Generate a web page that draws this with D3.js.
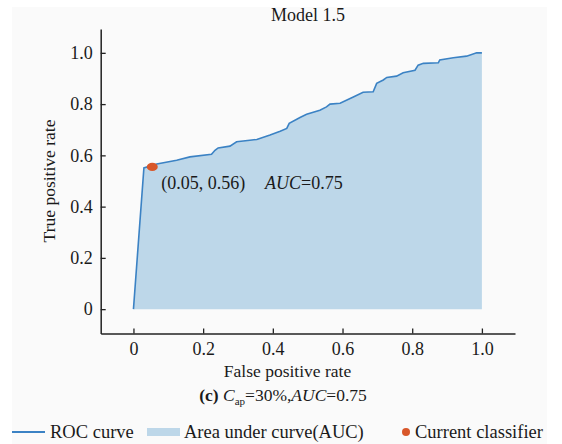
<!DOCTYPE html>
<html>
<head>
<meta charset="utf-8">
<script src="https://cdn.jsdelivr.net/npm/d3@7"></script>
<style>
  body { margin: 0; background: #fff; }
  text { font-family: "Liberation Serif", "Times New Roman", serif; fill: #1a1a1a; }
</style>
</head>
<body>
<div id="vizcont"></div>
<script>
// ROC curve
var fpr = [0, 0.030, 0.067, 0.124, 0.162, 0.224, 0.234, 0.243, 0.277, 0.296, 0.334, 0.354, 0.392, 0.421, 0.440, 0.447,
           0.478, 0.497, 0.535, 0.554, 0.564, 0.593, 0.631, 0.659, 0.688, 0.698, 0.717, 0.727, 0.755, 0.774, 0.808,
           0.817, 0.832, 0.875, 0.879, 0.918, 0.956, 0.985, 1.0];
var tpr = [0, 0.551, 0.566, 0.581, 0.594, 0.604, 0.620, 0.629, 0.636, 0.653, 0.659, 0.662, 0.679, 0.694, 0.705, 0.725,
           0.748, 0.760, 0.776, 0.789, 0.800, 0.803, 0.828, 0.846, 0.848, 0.881, 0.894, 0.904, 0.909, 0.922, 0.932,
           0.952, 0.959, 0.961, 0.972, 0.981, 0.987, 1.0, 1.0];
var current = [0.054, 0.555];
var xTicks = [0, 0.2, 0.4, 0.6, 0.8, 1.0];
var yTicks = [0, 0.2, 0.4, 0.6, 0.8, 1.0];
var tickLabels = ["0", "0.2", "0.4", "0.6", "0.8", "1.0"];
var legendLabels = ["ROC curve", "Area under curve(AUC)", "Current classifier"];

var width = 562, height = 444;
var lineColor = "#3b82c4", areaColor = "#bdd7e9", dotColor = "#d8572a";

var svg = d3.select("#vizcont").append("svg")
    .attr("width", width).attr("height", height);

// light panel behind everything
svg.append("rect").attr("x", 12).attr("y", 7).attr("width", 535).attr("height", 437).attr("fill", "#fafafa");

var x = d3.scaleLinear().domain([-0.094, 1.095]).range([100.7, 515]);
var y = d3.scaleLinear().domain([-0.095, 1.093]).range([333.5, 29]);

var pts = fpr.map(function(d, i) { return [d, tpr[i]]; });

// area
svg.append("path")
    .datum(pts)
    .attr("fill", areaColor)
    .attr("d", d3.area().x(function(d) { return x(d[0]); }).y0(y(0)).y1(function(d) { return y(d[1]); }));

// curve
svg.append("path")
    .datum(pts)
    .attr("fill", "none")
    .attr("stroke", lineColor)
    .attr("stroke-width", 1.6)
    .attr("d", d3.line().x(function(d) { return x(d[0]); }).y(function(d) { return y(d[1]); }));

// current classifier
svg.append("ellipse")
    .attr("cx", x(current[0])).attr("cy", y(current[1]))
    .attr("rx", 5.5).attr("ry", 4.2)
    .attr("fill", dotColor);

// axes
var xAxis = svg.append("g")
    .attr("transform", "translate(0," + y.range()[0] + ")")
    .call(d3.axisBottom(x).tickValues(xTicks).tickSizeInner(-5).tickSizeOuter(0)
        .tickFormat(function(d, i) { return tickLabels[i]; }));
var yAxis = svg.append("g")
    .attr("transform", "translate(" + x.range()[0] + ",0)")
    .call(d3.axisLeft(y).tickValues(yTicks).tickSizeInner(-5).tickSizeOuter(0)
        .tickFormat(function(d, i) { return tickLabels[i]; }));

[xAxis, yAxis].forEach(function(a) {
  a.select(".domain").attr("stroke", "#222").attr("stroke-width", 1.5);
  a.selectAll(".tick line").attr("stroke", "#222").attr("stroke-width", 1.3);
  a.selectAll(".tick text").style("font-family", "Liberation Serif").style("font-size", "18px").attr("fill", "#1a1a1a");
});
xAxis.selectAll(".tick text").attr("y", 9).attr("dy", "0.71em");
yAxis.selectAll(".tick text").attr("x", -8);

// title and axis titles
svg.append("text").attr("x", 308).attr("y", 21).attr("text-anchor", "middle")
    .style("font-size", "18px").text("Model 1.5");
svg.append("text").attr("x", 287.5).attr("y", 377).attr("text-anchor", "middle")
    .style("font-size", "17.5px").text("False positive rate");
svg.append("text").attr("transform", "translate(55,181) rotate(-90)").attr("text-anchor", "middle")
    .style("font-size", "17.5px").text("True positive rate");

// annotations
svg.append("text").attr("x", x(current[0]) + 9).attr("y", y(current[1]) + 22)
    .style("font-size", "18px").text("(" + current[0].toFixed(2).replace("0.054", "0.05") + ", " + current[1].toFixed(2) + ")");
var auc = svg.append("text").attr("x", 265).attr("y", 189).style("font-size", "18px");
auc.append("tspan").style("font-style", "italic").text("AUC");
auc.append("tspan").text("=0.75");

// caption
var cap = svg.append("text").attr("x", 283).attr("y", 401).attr("text-anchor", "middle").style("font-size", "17.5px");
cap.append("tspan").style("font-weight", "bold").text("(c) ");
cap.append("tspan").style("font-style", "italic").text("C");
cap.append("tspan").attr("dy", 4).style("font-size", "11px").text("ap");
cap.append("tspan").attr("dy", -4).text("=30%,");
cap.append("tspan").style("font-style", "italic").text("AUC");
cap.append("tspan").text("=0.75");

// legend
var ly = 432;
svg.append("line").attr("x1", 12).attr("x2", 45).attr("y1", ly).attr("y2", ly)
    .attr("stroke", lineColor).attr("stroke-width", 2);
svg.append("text").attr("x", 50).attr("y", ly + 6).style("font-size", "18.5px").text(legendLabels[0]);
svg.append("rect").attr("x", 147).attr("y", ly - 4).attr("width", 33).attr("height", 8).attr("fill", areaColor);
svg.append("text").attr("x", 184).attr("y", ly + 6).style("font-size", "18.5px").text(legendLabels[1]);
svg.append("circle").attr("cx", 406).attr("cy", ly).attr("r", 4).attr("fill", dotColor);
svg.append("text").attr("x", 415).attr("y", ly + 6).style("font-size", "18.5px").text(legendLabels[2]);
</script>
</body>
</html>
